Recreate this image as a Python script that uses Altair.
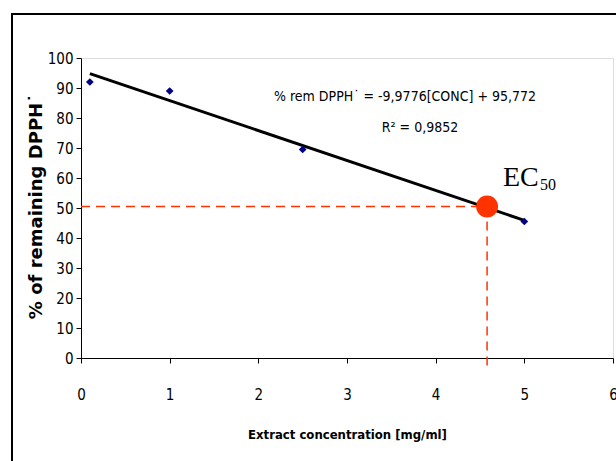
import altair as alt
import pandas as pd

# measured points
conc = [0.1, 1.0, 2.5, 5.0]
remaining = [92.0, 89.0, 69.5, 45.5]

# trendline (from displayed equation)
slope = -9.9776
intercept = 95.772
trend_x = [0.1, 5.0]

# EC50
ec50_y = 50.5
ec50_x = 4.58

x_ticks = [0, 1, 2, 3, 4, 5, 6]
y_ticks = [0, 10, 20, 30, 40, 50, 60, 70, 80, 90, 100]

pts = pd.DataFrame({"x": conc, "y": remaining})
trend = pd.DataFrame({"x": trend_x, "y": [slope * v + intercept for v in trend_x]})
hline = pd.DataFrame({"x": [0.0, ec50_x], "y": [ec50_y, ec50_y]})
vline = pd.DataFrame({"x": [ec50_x, ec50_x], "y": [ec50_y, -3.5]})
ec = pd.DataFrame({"x": [ec50_x], "y": [ec50_y]})

narrow = "Liberation Sans Narrow, Arial Narrow, DejaVu Sans Condensed, Liberation Sans, Arial"
red = "#FF3300"

xs = alt.X("x:Q", scale=alt.Scale(domain=[0, 6], nice=False),
           axis=alt.Axis(title="Extract concentration [mg/ml]", values=x_ticks, format="d",
                         grid=False, tickSize=5, labelPadding=24, titlePadding=26,
                         labelFontSize=15, labelFont=narrow, titleFont=narrow,
                         titleFontSize=13, titleFontWeight="bold", labelOverlap=False,
                         domainColor="black", tickColor="black", labelColor="black",
                         titleColor="black", labelFlush=False))
ys = alt.Y("y:Q", scale=alt.Scale(domain=[0, 100], nice=False),
           axis=alt.Axis(title="% of remaining DPPH˙", values=y_ticks, format="d",
                         grid=False, tickSize=5, labelPadding=3, labelOverlap=False,
                         labelFontSize=15, labelFont=narrow,
                         titleFont="DejaVu Sans, Liberation Sans", titleFontSize=18,
                         titleFontWeight="bold", titleX=-45, titleY=148,
                         titleAngle=-90, titleBaseline="middle", titleAlign="center",
                         domainColor="black", tickColor="black", labelColor="black",
                         titleColor="black"))

frame = alt.Chart(pd.DataFrame({"a": [0]})).mark_rect(
    fill=None, stroke="black", strokeWidth=2
).encode(x=alt.value(-69), x2=alt.value(560), y=alt.value(-44), y2=alt.value(420))

hl = alt.Chart(hline).mark_line(color=red, strokeWidth=1.5, strokeDash=[9, 6]).encode(x=xs, y=ys)
vl = alt.Chart(vline).mark_line(color=red, strokeWidth=1.5, strokeDash=[9, 6]).encode(x=xs, y=ys)
tl = alt.Chart(trend).mark_line(color="black", strokeWidth=3).encode(x=xs, y=ys)
pt = alt.Chart(pts).mark_point(shape="diamond", filled=True, color="#000080", size=60, opacity=1).encode(x=xs, y=ys)
ecp = alt.Chart(ec).mark_circle(color=red, size=480, opacity=1).encode(x=xs, y=ys)

eq1 = alt.Chart(pd.DataFrame({"t": ["% rem DPPH˙ = -9,9776[CONC] + 95,772"]})).mark_text(
    font=narrow, fontSize=14, color="black", align="center", baseline="middle"
).encode(x=alt.value(324), y=alt.value(39), text="t:N")
eq2 = alt.Chart(pd.DataFrame({"t": ["R² = 0,9852"]})).mark_text(
    font=narrow, fontSize=14, color="black", align="center", baseline="middle"
).encode(x=alt.value(339), y=alt.value(70), text="t:N")
ec_t = alt.Chart(pd.DataFrame({"t": ["EC"]})).mark_text(
    font="Liberation Serif, Times New Roman", fontSize=28, color="black", align="left", baseline="alphabetic"
).encode(x=alt.value(422), y=alt.value(128), text="t:N")
ec_s = alt.Chart(pd.DataFrame({"t": ["50"]})).mark_text(
    font="Liberation Serif, Times New Roman", fontSize=16, color="black", align="left", baseline="alphabetic"
).encode(x=alt.value(459), y=alt.value(132), text="t:N")

chart = alt.layer(frame, hl, vl, tl, pt, ecp, eq1, eq2, ec_t, ec_s).properties(
    width=532, height=300,
    autosize=alt.AutoSizeParams(type="none"),
    padding={"left": 81, "top": 58, "right": 3, "bottom": 103},
).configure_view(stroke=None).configure(background="white")

chart.save("out.html", embed_options={"renderer": "svg", "actions": False})
